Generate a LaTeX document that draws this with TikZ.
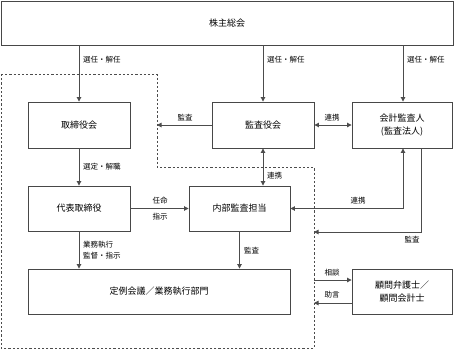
\documentclass[tikz,border=0pt]{standalone}
\usepackage{fontspec}
\newfontfamily\jp{Noto Sans CJK JP}
\usetikzlibrary{arrows.meta}
\begin{document}
\begin{tikzpicture}[x=1pt,y=-1pt,
  box/.style={draw=black!72,line width=0.9pt,fill=white,inner sep=0pt,font=\jp\fontsize{9}{13}\selectfont,align=center,text=black},
  lbl/.style={font=\jp\fontsize{7.5}{11}\selectfont,inner sep=0pt,text=black},
  ln/.style={draw=black!70,line width=0.9pt},
  arr/.style={ln,-{Triangle[length=4.5pt,width=4.5pt]}},
  arrb/.style={ln,{Triangle[length=4.5pt,width=4.5pt]}-{Triangle[length=4.5pt,width=4.5pt]}},
  bnd/.style={draw=black!70,line width=0.9pt,dash pattern=on 2.2pt off 2pt}]
\useasboundingbox (0,0) rectangle (454,349);
% dashed boundary
\draw[bnd] (1,74) -- (157,74) -- (157,167) -- (314,167) -- (314,348) -- (1,348) -- cycle;
\coordinate (b1) at (157,125);
\coordinate (b2) at (314,232);
\coordinate (b3a) at (314,280);
\coordinate (b3b) at (314,303);
% boxes
\node[box,minimum width=452pt,minimum height=44pt] (sh) at (227,23) {株主総会};
\node[box,minimum width=102pt,minimum height=46pt] (tori) at (79,125) {取締役会};
\node[box,minimum width=102pt,minimum height=46pt] (kansa) at (263,125) {監査役会};
\node[box,minimum width=100pt,minimum height=46pt] (kaikei) at (402,125) {会計監査人\\(監査法人)};
\node[box,minimum width=102pt,minimum height=45pt] (daihyo) at (79,208.5) {代表取締役};
\node[box,minimum width=101pt,minimum height=45pt] (naibu) at (239.5,208.5) {内部監査担当};
\node[box,minimum width=262pt,minimum height=45pt] (teirei) at (159,291.5) {定例会議／業務執行部門};
\node[box,minimum width=100pt,minimum height=45pt] (komon) at (402,291.5) {顧問弁護士／\\顧問会計士};
% connectors
\draw[arr] (tori.north |- sh.south) -- (tori.north);
\draw[arr] (kansa.north |- sh.south) -- (kansa.north);
\draw[arr] ([xshift=1pt]kaikei.north |- sh.south) -- ([xshift=1pt]kaikei.north);
\draw[arr] (kansa.west) -- (b1);
\draw[arrb] (kansa.east) -- (kaikei.west);
\draw[arr] (tori.south) -- (daihyo.north);
\draw[arr] (daihyo.east) -- (naibu.west);
\draw[arrb] (kansa.south) -- (kansa.south |- naibu.north);
\draw[arrb] (naibu.east) -| ([xshift=1pt]kaikei.south);
\draw[arr] ([xshift=19pt]kaikei.south) |- (b2);
\draw[arr] (daihyo.south) -- (daihyo.south |- teirei.north);
\draw[arr] (naibu.south) -- (naibu.south |- teirei.north);
\draw[arr] (b3a) -- (komon.west |- b3a);
\draw[arr] (komon.west |- b3b) -- (b3b);
% labels
\node[lbl,anchor=west] (l1) at (83,60) {選任・解任};
\node[lbl,anchor=west] (l2) at (267,60) {選任・解任};
\node[lbl,anchor=west] (l3) at (407,60) {選任・解任};
\node[lbl] (l4) at (185,118) {監査};
\node[lbl] (l5) at (332,118) {連携};
\node[lbl,anchor=west] (l6) at (83,167) {選定・解職};
\node[lbl] (l7) at (160,201) {任命};
\node[lbl] (l8) at (160,217) {指示};
\node[lbl,anchor=west] (l9) at (267,176) {連携};
\node[lbl] (l10) at (358,201) {連携};
\node[lbl] (l11) at (412,240) {監査};
\node[lbl,anchor=west] (l12) at (83,245) {業務執行};
\node[lbl,anchor=west] (l13) at (83,256) {監督・指示};
\node[lbl,anchor=west] (l14) at (244,251) {監査};
\node[lbl] (l15) at (332,273) {相談};
\node[lbl] (l16) at (332,295) {助言};
\end{tikzpicture}
\end{document}
